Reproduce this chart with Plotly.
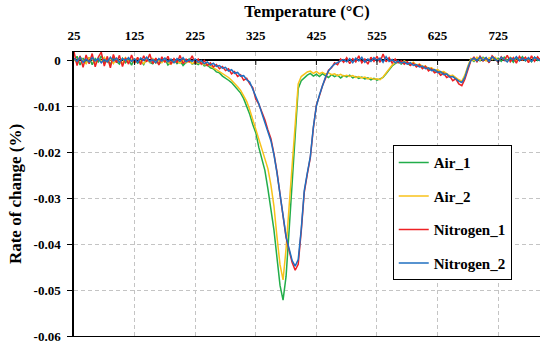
import plotly.graph_objects as go

temperature = list(range(25, 800, 5))

air_1 = [
    -0.0002, 0.0008, -0.0011, 0.0004, -0.0007, 0.0006, -0.0010, 0.0003, -0.0004, 0.0009,
    -0.0006, 0.0002, -0.0010, 0.0005, -0.0003, -0.0009, 0.0004, -0.0006, 0.0001, -0.0011,
    0.0003, -0.0007, -0.0002, -0.0010, 0.0004, -0.0005, -0.0008, 0.0002, -0.0009, -0.0003,
    0.0003, -0.0011, -0.0004, 0.0001, -0.0008, -0.0002, -0.0012, -0.0005, 0.0002, -0.0009,
    -0.0006, -0.0010, -0.0004, -0.0013, -0.0011, -0.0017, -0.0019, -0.0026, -0.0028, -0.0035,
    -0.0039, -0.0044, -0.0049, -0.0056, -0.0064, -0.0072, -0.0084, -0.0099, -0.0118, -0.0140,
    -0.0158, -0.0190, -0.0214, -0.0240, -0.0280, -0.0320, -0.0370, -0.0430, -0.0490, -0.0522,
    -0.0470, -0.0370, -0.0265, -0.0160, -0.0062, -0.0045, -0.0038, -0.0033, -0.0029, -0.0035,
    -0.0031, -0.0036, -0.0030, -0.0034, -0.0038, -0.0032, -0.0036, -0.0033, -0.0039, -0.0034,
    -0.0037, -0.0033, -0.0039, -0.0036, -0.0040, -0.0037, -0.0041, -0.0039, -0.0043, -0.0040,
    -0.0044, -0.0041, -0.0038, -0.0030, -0.0022, -0.0013, -0.0008, -0.0004, -0.0009, -0.0003,
    -0.0008, -0.0011, -0.0006, -0.0013, -0.0010, -0.0016, -0.0014, -0.0020, -0.0018, -0.0024,
    -0.0022, -0.0028, -0.0026, -0.0032, -0.0036, -0.0034, -0.0041, -0.0045, -0.0048, -0.0036,
    -0.0016, 0.0002, -0.0003, 0.0005, -0.0002, 0.0006, 0.0001, -0.0004, 0.0007, 0.0000,
    0.0004, -0.0003, 0.0006, -0.0001, 0.0003, -0.0005, 0.0005, 0.0000, 0.0007, -0.0002,
    0.0004, -0.0004, 0.0006, -0.0001, 0.0003,
]

air_2 = [
    0.0003, -0.0006, 0.0007, -0.0002, -0.0008, 0.0005, 0.0001, -0.0007, 0.0004, -0.0003,
    0.0006, -0.0005, 0.0002, -0.0008, 0.0003, -0.0002, -0.0007, 0.0005, -0.0004, 0.0001,
    -0.0006, 0.0004, -0.0003, -0.0008, 0.0002, -0.0005, 0.0003, -0.0007, -0.0001, -0.0006,
    0.0002, -0.0005, -0.0009, 0.0001, -0.0004, -0.0007, 0.0000, -0.0006, -0.0003, -0.0008,
    -0.0004, -0.0007, -0.0005, -0.0010, -0.0009, -0.0014, -0.0017, -0.0021, -0.0025, -0.0030,
    -0.0034, -0.0038, -0.0044, -0.0050, -0.0058, -0.0066, -0.0077, -0.0090, -0.0108, -0.0130,
    -0.0148, -0.0170, -0.0196, -0.0216, -0.0236, -0.0272, -0.0318, -0.0385, -0.0445, -0.0478,
    -0.0410, -0.0318, -0.0222, -0.0125, -0.0052, -0.0036, -0.0030, -0.0026, -0.0024, -0.0029,
    -0.0025, -0.0030, -0.0027, -0.0031, -0.0028, -0.0032, -0.0030, -0.0034, -0.0031, -0.0035,
    -0.0033, -0.0036, -0.0034, -0.0038, -0.0036, -0.0039, -0.0037, -0.0041, -0.0039, -0.0042,
    -0.0041, -0.0043, -0.0037, -0.0028, -0.0019, -0.0011, -0.0006, -0.0003, -0.0007, -0.0002,
    -0.0006, -0.0009, -0.0005, -0.0011, -0.0009, -0.0014, -0.0013, -0.0018, -0.0017, -0.0022,
    -0.0021, -0.0026, -0.0025, -0.0030, -0.0034, -0.0033, -0.0039, -0.0043, -0.0046, -0.0033,
    -0.0013, 0.0003, -0.0001, 0.0006, 0.0000, 0.0004, -0.0002, 0.0005, 0.0001, 0.0006,
    -0.0001, 0.0005, 0.0002, -0.0003, 0.0006, 0.0001, -0.0002, 0.0004, 0.0000, 0.0005,
    -0.0002, 0.0006, 0.0001, 0.0004, -0.0001,
]

nitrogen_1 = [
    0.0018, -0.0012, 0.0009, -0.0016, 0.0011, -0.0008, 0.0014, -0.0015, 0.0006, 0.0017,
    -0.0013, 0.0008, -0.0017, 0.0012, -0.0006, 0.0010, -0.0014, 0.0005, -0.0009, 0.0011,
    -0.0007, 0.0006, -0.0010, 0.0009, -0.0004, 0.0013, -0.0008, 0.0004, -0.0011, 0.0007,
    -0.0005, 0.0008, -0.0009, 0.0003, -0.0006, 0.0010, -0.0008, 0.0002, -0.0004, 0.0009,
    -0.0007, 0.0002, -0.0009, -0.0001, -0.0012, -0.0006, -0.0015, -0.0010, -0.0019, -0.0014,
    -0.0023, -0.0019, -0.0030, -0.0025, -0.0036, -0.0032, -0.0044, -0.0040, -0.0052, -0.0060,
    -0.0085, -0.0096, -0.0113, -0.0130, -0.0152, -0.0171, -0.0204, -0.0243, -0.0292, -0.0343,
    -0.0386, -0.0414, -0.0440, -0.0457, -0.0444, -0.0372, -0.0288, -0.0248, -0.0212, -0.0148,
    -0.0098, -0.0078, -0.0056, -0.0040, -0.0022, -0.0017, -0.0006, -0.0010, 0.0002, -0.0005,
    0.0005, -0.0008, 0.0003, -0.0004, 0.0009, -0.0006, 0.0002, -0.0009, 0.0006, -0.0003,
    0.0008, -0.0005, 0.0013, -0.0004, 0.0005, -0.0007, 0.0002, -0.0006, -0.0002, -0.0009,
    -0.0004, -0.0012, -0.0007, -0.0015, -0.0010, -0.0019, -0.0014, -0.0024, -0.0019, -0.0028,
    -0.0025, -0.0033, -0.0029, -0.0038, -0.0035, -0.0045, -0.0041, -0.0052, -0.0056, -0.0042,
    -0.0019, -0.0001, 0.0006, -0.0004, 0.0008, -0.0002, 0.0005, -0.0006, 0.0009, 0.0001,
    -0.0005, 0.0007, -0.0001, 0.0010, -0.0004, 0.0005, -0.0007, 0.0008, 0.0000, 0.0006,
    -0.0006, 0.0009, -0.0003, 0.0007, -0.0002,
]

nitrogen_2 = [
    0.0004, -0.0003, 0.0006, -0.0005, 0.0002, -0.0004, 0.0005, -0.0002, 0.0003, -0.0006,
    0.0001, -0.0004, 0.0006, -0.0002, 0.0004, -0.0005, 0.0003, -0.0001, 0.0005, -0.0003,
    0.0002, -0.0005, 0.0004, -0.0001, 0.0006, -0.0003, 0.0001, -0.0006, 0.0003, -0.0002,
    0.0004, -0.0004, 0.0002, -0.0006, 0.0003, -0.0002, 0.0005, -0.0004, 0.0001, -0.0003,
    0.0002, -0.0005, -0.0001, -0.0008, -0.0004, -0.0011, -0.0007, -0.0014, -0.0012, -0.0018,
    -0.0016, -0.0024, -0.0021, -0.0029, -0.0027, -0.0035, -0.0034, -0.0043, -0.0048, -0.0063,
    -0.0082, -0.0095, -0.0116, -0.0134, -0.0156, -0.0176, -0.0206, -0.0246, -0.0296, -0.0346,
    -0.0384, -0.0410, -0.0436, -0.0448, -0.0434, -0.0368, -0.0284, -0.0246, -0.0210, -0.0146,
    -0.0100, -0.0076, -0.0058, -0.0037, -0.0024, -0.0015, -0.0009, -0.0005, -0.0002, 0.0001,
    -0.0004, 0.0003, -0.0006, 0.0004, -0.0002, 0.0006, -0.0005, 0.0002, -0.0003, 0.0005,
    -0.0002, 0.0004, -0.0005, 0.0007, -0.0003, 0.0001, -0.0006, -0.0002, -0.0007, -0.0004,
    -0.0009, -0.0006, -0.0012, -0.0010, -0.0015, -0.0013, -0.0019, -0.0017, -0.0023, -0.0021,
    -0.0027, -0.0025, -0.0032, -0.0030, -0.0037, -0.0036, -0.0042, -0.0046, -0.0049, -0.0038,
    -0.0017, 0.0000, 0.0004, -0.0002, 0.0006, -0.0001, 0.0005, -0.0003, 0.0007, 0.0002,
    -0.0003, 0.0006, 0.0001, -0.0004, 0.0005, 0.0000, 0.0007, -0.0002, 0.0004, -0.0001,
    0.0005, -0.0003, 0.0006, 0.0002, -0.0002,
]

series_names = ["Air_1", "Air_2", "Nitrogen_1", "Nitrogen_2"]
series_values = [air_1, air_2, nitrogen_1, nitrogen_2]
series_colors = ["#22ad4a", "#f8c21a", "#ee2124", "#1f6fc1"]

x_ticks = [25, 125, 225, 325, 425, 525, 625, 725]
y_ticks = [0, -0.01, -0.02, -0.03, -0.04, -0.05, -0.06]
y_tick_labels = ["0", "-0.01", "-0.02", "-0.03", "-0.04", "-0.05", "-0.06"]

FONT = "Liberation Serif"

fig = go.Figure()
for name, vals, col in zip(series_names, series_values, series_colors):
    fig.add_trace(go.Scatter(
        x=temperature, y=vals, mode="lines", name=name, legendgroup=name,
        line=dict(color=col, width=1.5),
    ))

# tick marks on the y=0 axis line
for xv in x_ticks[1:]:
    fig.add_shape(type="line", xref="x", yref="y", x0=xv, x1=xv,
                  ysizemode="pixel", yanchor=0, y0=0, y1=-5,
                  line=dict(color="black", width=1))

fig.update_layout(
    width=540, height=345,
    margin=dict(l=74, r=0, t=52, b=9),
    paper_bgcolor="white", plot_bgcolor="white",
    font=dict(family=FONT, color="black", size=13),
    showlegend=True,
    legend=dict(
        x=0.684, y=0.672, xanchor="left", yanchor="top",
        bgcolor="white", bordercolor="black", borderwidth=1,
        font=dict(family=FONT, size=15, color="black", weight="bold"),
        tracegroupgap=11, traceorder="grouped",
    ),
    xaxis=dict(
        side="top", range=[25, 794],
        tickvals=x_ticks, ticktext=[str(v) for v in x_ticks],
        tickfont=dict(family=FONT, size=13, weight="bold"),
        ticks="", ticklabelstandoff=6,
        showline=True, mirror=True, linecolor="black", linewidth=1,
        showgrid=True, gridcolor="#c4c4c4", griddash="4px,3px", gridwidth=1,
        zeroline=False,
        title=dict(text="Temperature (°C)", font=dict(family=FONT, size=16.5, weight="bold"), standoff=6),
    ),
    yaxis=dict(
        range=[-0.06, 0.00174],
        tickvals=y_ticks, ticktext=y_tick_labels,
        tickfont=dict(family=FONT, size=13, weight="bold"),
        ticks="outside", ticklen=5, tickcolor="black", ticklabelstandoff=4,
        showline=True, mirror=False, linecolor="black", linewidth=1.5,
        showgrid=True, gridcolor="#c4c4c4", griddash="4px,3px", gridwidth=1,
        zeroline=True, zerolinecolor="black", zerolinewidth=1.5,
        title=dict(text="Rate of change (%)", font=dict(family=FONT, size=17, weight="bold"), standoff=8),
    ),
)

fig.write_html("out.html")
